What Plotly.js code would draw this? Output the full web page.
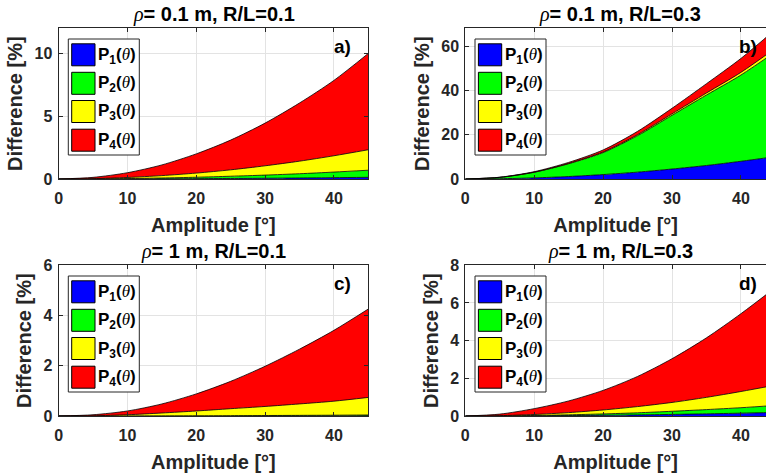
<!DOCTYPE html>
<html>
<head>
<meta charset="utf-8">
<script src="https://cdn.plot.ly/plotly-3.0.1.min.js"></script>
<style>html,body{margin:0;padding:0;background:#fff;}#chart{width:766px;height:475px;}</style>
</head>
<body>
<div id="chart"></div>
<script>
// ---- data ----
const amplitude = [0, 5, 10, 15, 20, 25, 30, 35, 40, 45];

// panel a) rho = 0.1 m, R/L = 0.1  (stacked components, %)
const a_P1 = [0, 0.002, 0.007, 0.015, 0.027, 0.042, 0.06, 0.082, 0.107, 0.135];
const a_P2 = [0, 0.008, 0.028, 0.065, 0.113, 0.178, 0.25, 0.338, 0.443, 0.565];
const a_P3 = [0, 0.02, 0.085, 0.19, 0.33, 0.51, 0.74, 1.0, 1.3, 1.63];
const a_P4 = [0, 0.10, 0.38, 0.85, 1.53, 2.37, 3.40, 4.63, 6.0, 7.67];

// panel b) rho = 0.1 m, R/L = 0.3
const b_P1 = [0, 0.12, 0.5, 1.12, 2.0, 3.1, 4.5, 6.1, 8.0, 10.1];
const b_P2 = [0, 0.61, 2.53, 5.77, 9.9, 16.45, 24.25, 31.8, 38.9, 47.3];
const b_P3 = [0, 0.02, 0.07, 0.16, 0.3, 0.45, 0.65, 0.9, 1.2, 1.6];
const b_P4 = [0, 0.05, 0.2, 0.45, 0.9, 1.5, 2.5, 4.2, 6.3, 8.5];

// panel c) rho = 1 m, R/L = 0.1
const c_P1 = [0, 0.0002, 0.0008, 0.0015, 0.0025, 0.0035, 0.005, 0.0065, 0.008, 0.01];
const c_P2 = [0, 0.0005, 0.002, 0.004, 0.007, 0.01, 0.014, 0.019, 0.024, 0.03];
const c_P3 = [0, 0.009, 0.047, 0.114, 0.19, 0.277, 0.361, 0.455, 0.558, 0.70];
const c_P4 = [0, 0.04, 0.15, 0.36, 0.68, 1.09, 1.60, 2.18, 2.82, 3.52];

// panel d) rho = 1 m, R/L = 0.3
const d_P1 = [0, 0.002, 0.009, 0.021, 0.038, 0.059, 0.085, 0.115, 0.15, 0.19];
const d_P2 = [0, 0.005, 0.019, 0.041, 0.072, 0.111, 0.165, 0.225, 0.29, 0.37];
const d_P3 = [0, 0.013, 0.052, 0.118, 0.21, 0.33, 0.47, 0.65, 0.86, 1.08];
const d_P4 = [0, 0.08, 0.31, 0.62, 1.04, 1.6, 2.32, 3.16, 4.13, 5.18];

const panelTitles = ['ρ= 0.1 m, R/L=0.1', 'ρ= 0.1 m, R/L=0.3', 'ρ= 1 m, R/L=0.1', 'ρ= 1 m, R/L=0.3'];
const panelLabels = ['a)', 'b)', 'c)', 'd)'];
const seriesNames = ['1', '2', '3', '4'];
const xTitle = 'Amplitude [°]';
const yTitle = 'Difference [%]';
const yTicksA = [0, 5, 10];
const yTicksB = [0, 20, 40, 60];
const yTicksC = [0, 2, 4, 6];
const yTicksD = [0, 2, 4, 6, 8];
const xTicks = [0, 10, 20, 30, 40];

// ---- layout helpers ----
const W = 766, H = 475;
const px = v => v / W;
const py = v => 1 - v / H;
const colors = ['#0000ff', '#00ff00', '#ffff00', '#ff0000'];
const panelData = [[a_P1, a_P2, a_P3, a_P4], [b_P1, b_P2, b_P3, b_P4], [c_P1, c_P2, c_P3, c_P4], [d_P1, d_P2, d_P3, d_P4]];
const yTickSets = [yTicksA, yTicksB, yTicksC, yTicksD];
const yRanges = [[0, 12], [0, 68], [0, 6], [0, 8]];
// pixel geometry of each plot box
const boxes = [
  {l: 58.6, r: 368.3, t: 28.3, b: 179, xr: [0, 45], full: true},
  {l: 465.3, r: 766, t: 28.3, b: 179, xr: [0, 43.64], full: false},
  {l: 58.6, r: 368.3, t: 265.3, b: 416, xr: [0, 45], full: true},
  {l: 465.3, r: 766, t: 265.3, b: 416, xr: [0, 43.64], full: false}
];

const traces = [];
const layout = {
  width: W, height: H,
  margin: {l: 0, r: 0, t: 0, b: 0},
  paper_bgcolor: '#ffffff', plot_bgcolor: '#ffffff',
  showlegend: false,
  font: {family: 'Liberation Sans, Arial, sans-serif', color: '#262626'},
  shapes: [], annotations: []
};

const tickFont = {family: 'Liberation Sans, Arial, sans-serif', size: 16, weight: 'bold', color: '#262626'};
const titleFont = {family: 'Liberation Sans, Arial, sans-serif', size: 20, weight: 'bold', color: '#262626'};
const serifTheta = '<span style="font-family:Liberation Serif;font-style:italic;font-weight:normal">';

boxes.forEach((bx, i) => {
  const xa = i === 0 ? 'x' : 'x' + (i + 1);
  const ya = i === 0 ? 'y' : 'y' + (i + 1);
  const xk = i === 0 ? 'xaxis' : 'xaxis' + (i + 1);
  const yk = i === 0 ? 'yaxis' : 'yaxis' + (i + 1);
  panelData[i].forEach((vals, j) => {
    traces.push({
      x: amplitude, y: vals, xaxis: xa, yaxis: ya,
      type: 'scatter', mode: 'lines', stackgroup: 'g' + i,
      fillcolor: colors[j],
      line: {color: '#000000', width: 0.8, shape: 'spline', smoothing: 0.8},
      name: 'P' + seriesNames[j], hoverinfo: 'skip'
    });
  });
  layout[xk] = {
    domain: [px(bx.l), px(bx.r)], range: bx.xr, anchor: ya,
    tickvals: xTicks, ticks: 'inside', ticklen: 4, tickcolor: '#262626',
    showline: true, linecolor: '#262626', linewidth: 1, mirror: 'allticks',
    showgrid: true, gridcolor: '#e3e3e3', gridwidth: 1, zeroline: false,
    tickfont: tickFont, ticklabelstandoff: 5,
    title: {text: xTitle, font: titleFont, standoff: 11}
  };
  layout[yk] = {
    domain: [py(bx.b), py(bx.t)], range: yRanges[i], anchor: xa,
    tickvals: yTickSets[i], ticks: 'inside', ticklen: 4, tickcolor: '#262626',
    showline: true, linecolor: '#262626', linewidth: 1, mirror: bx.full ? 'allticks' : false,
    showgrid: true, gridcolor: '#e3e3e3', gridwidth: 1, zeroline: false,
    tickfont: tickFont, ticklabelstandoff: 2,
    title: {text: yTitle, font: titleFont, standoff: 6}
  };
  // subplot title
  layout.annotations.push({
    xref: 'paper', yref: 'paper', x: px(bx.l + 155), y: py(bx.t - 13.5),
    xanchor: 'center', yanchor: 'middle', showarrow: false,
    text: serifTheta + panelTitles[i].charAt(0) + '</span><b>' + panelTitles[i].slice(1) + '</b>',
    font: {family: 'Liberation Sans, Arial, sans-serif', size: 20, color: '#000000'}
  });
  // panel label
  layout.annotations.push({
    xref: 'paper', yref: 'paper', x: px(bx.l + 294), y: py(bx.t + 18.5),
    xanchor: 'right', yanchor: 'middle', showarrow: false,
    text: '<b>' + panelLabels[i] + '</b>',
    font: {family: 'Liberation Sans, Arial, sans-serif', size: 19, color: '#000000'}
  });
  // legend box
  const lx0 = bx.l + 9.7, lx1 = bx.l + 80.7, ly0 = bx.t + 10.7, ly1 = bx.t + 126.7;
  layout.shapes.push({type: 'rect', xref: 'paper', yref: 'paper', x0: px(lx0), x1: px(lx1), y0: py(ly0), y1: py(ly1),
    fillcolor: '#ffffff', line: {color: '#262626', width: 1}, layer: 'above'});
  const rowCenters = [26.5, 55, 83.2, 111.9];
  seriesNames.forEach((s, j) => {
    const cy = bx.t + rowCenters[j];
    layout.shapes.push({type: 'rect', xref: 'paper', yref: 'paper',
      x0: px(bx.l + 13.1), x1: px(bx.l + 36.4), y0: py(cy - 11), y1: py(cy + 11),
      fillcolor: colors[j], line: {color: '#000000', width: 1}, layer: 'above'});
    layout.annotations.push({
      xref: 'paper', yref: 'paper', x: px(bx.l + 37.5), y: py(cy + 1),
      xanchor: 'left', yanchor: 'middle', showarrow: false,
      text: '<b>P<sub>' + s + '</sub>(</b>' + serifTheta + 'θ</span><b>)</b>',
      font: {family: 'Liberation Sans, Arial, sans-serif', size: 17, color: '#000000'}
    });
  });
});

Plotly.newPlot('chart', traces, layout, {staticPlot: true, displayModeBar: false});
</script>
</body>
</html>
